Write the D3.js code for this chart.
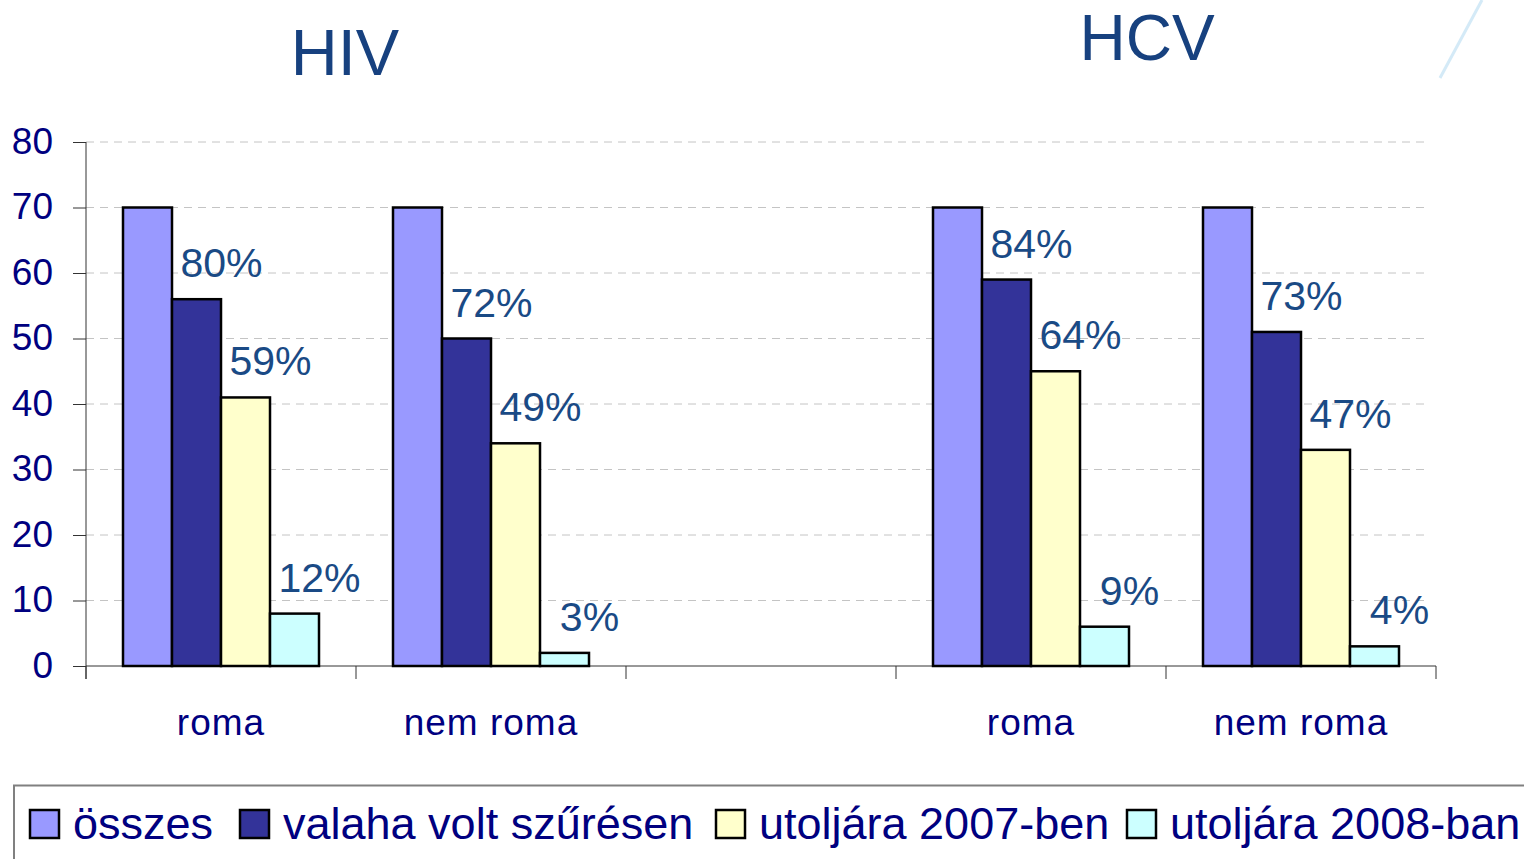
<!DOCTYPE html>
<html>
<head>
<meta charset="utf-8">
<script src="https://cdn.jsdelivr.net/npm/d3@7"></script>
<style>
  body { margin: 0; background: #fff; }
  svg { display: block; font-family: "Liberation Sans", Arial, sans-serif; }
</style>
</head>
<body>
<script>
// chart data
const categories = ["roma", "nem roma", "", "roma", "nem roma"];
const titles = ["HIV", "HCV"];
const seriesNames = ["összes", "valaha volt szűrésen", "utoljára 2007-ben", "utoljára 2008-ban"];
const osszes = [70, 70, null, 70, 70];
const valaha = [56, 50, null, 59, 51];
const utoljara2007 = [41, 34, null, 45, 33];
const utoljara2008 = [8, 2, null, 6, 3];
const valahaLabels = ["80%", "72%", null, "84%", "73%"];
const label2007 = ["59%", "49%", null, "64%", "47%"];
const label2008 = ["12%", "3%", null, "9%", "4%"];
const yTicks = [0, 10, 20, 30, 40, 50, 60, 70, 80];

const seriesValues = [osszes, valaha, utoljara2007, utoljara2008];
const seriesLabels = [null, valahaLabels, label2007, label2008];
const colors = ["#9999FF", "#333399", "#FFFFCC", "#CCFFFF"];

const W = 1524, H = 859;
const svg = d3.select("body").append("svg").attr("width", W).attr("height", H);

const x0 = d3.scaleBand().domain(d3.range(categories.length)).range([86, 1436]);
const x1 = d3.scaleBand().domain(d3.range(seriesNames.length))
    .range([37, x0.bandwidth() - 37]);
const y = d3.scaleLinear().domain([0, 80]).range([666, 142]);

// grid lines
svg.append("g").selectAll("line").data(yTicks.filter(d => d > 0)).join("line")
    .attr("x1", 86).attr("x2", 1430)
    .attr("y1", d => y(d)).attr("y2", d => y(d))
    .attr("stroke", "#c4c4c4").attr("stroke-width", 1)
    .attr("stroke-dasharray", "8,6");

// y axis
const yAxis = svg.append("g").attr("transform", "translate(86,0)")
    .call(d3.axisLeft(y).tickValues(yTicks).tickSize(13).tickPadding(20));
yAxis.select(".domain").remove();
yAxis.append("line").attr("x1", 0).attr("x2", 0).attr("y1", y(80)).attr("y2", 679)
    .attr("stroke", "#333");
yAxis.selectAll(".tick line").attr("stroke", "#333");
yAxis.selectAll(".tick text").attr("fill", "#000080").style("font-size", "37px")
    .attr("dy", "0.3em");

// x axis
const xg = svg.append("g");
xg.append("line").attr("x1", 86).attr("x2", 1436).attr("y1", 666).attr("y2", 666)
    .attr("stroke", "#333");
xg.selectAll(".xt").data(d3.range(categories.length + 1)).join("line")
    .attr("class", "xt")
    .attr("x1", d => 86 + d * x0.bandwidth()).attr("x2", d => 86 + d * x0.bandwidth())
    .attr("y1", 666).attr("y2", 679).attr("stroke", "#333");
xg.selectAll("text").data(categories).join("text")
    .attr("x", (d, i) => x0(i) + x0.bandwidth() / 2)
    .attr("y", 735)
    .attr("text-anchor", "middle")
    .attr("fill", "#000080")
    .style("font-size", "37px")
    .style("letter-spacing", "1px")
    .text(d => d);

// bars
const groups = svg.append("g").selectAll("g").data(categories).join("g")
    .attr("transform", (d, i) => `translate(${x0(i)},0)`);

groups.each(function (cat, ci) {
  const g = d3.select(this);
  seriesValues.forEach((vals, si) => {
    const v = vals[ci];
    if (v == null) return;
    g.append("rect")
      .attr("x", x1(si)).attr("width", x1.bandwidth())
      .attr("y", y(v)).attr("height", y(0) - y(v))
      .attr("fill", colors[si]).attr("stroke", "#000").attr("stroke-width", 2.5);
  });
  seriesValues.forEach((vals, si) => {
    const lab = seriesLabels[si] && seriesLabels[si][ci];
    if (!lab) return;
    g.append("text")
      .attr("x", x1(si) + x1.bandwidth() / 2 + 25)
      .attr("y", y(vals[ci]) - 22)
      .attr("text-anchor", "middle")
      .attr("fill", "#1A4A85")
      .style("font-size", "41px")
      .text(lab);
  });
});

// titles
svg.selectAll(".title").data(titles).join("text")
    .attr("class", "title")
    .attr("x", (d, i) => x0(i * 3) + x0.bandwidth() - 11 - i * 8)
    .attr("y", (d, i) => i === 0 ? 75 : 60)
    .attr("text-anchor", "middle")
    .attr("fill", "#17417F")
    .style("font-size", (d, i) => i === 0 ? "65px" : "64px")
    .text(d => d);

// decorative stroke top right
svg.append("line").attr("x1", 1440).attr("y1", 78).attr("x2", 1482).attr("y2", 0)
    .attr("stroke", "#d4eaf7").attr("stroke-width", 3);

// legend
svg.append("path").attr("d", "M14,859 V785.5 H1524")
    .attr("fill", "none").attr("stroke", "#808080").attr("stroke-width", 2);

const legendX = [30, 240, 716, 1127];
const lg = svg.append("g").selectAll("g").data(seriesNames).join("g")
    .attr("transform", (d, i) => `translate(${legendX[i]},0)`);
lg.append("rect").attr("x", 0).attr("y", 810).attr("width", 29).attr("height", 28)
    .attr("fill", (d, i) => colors[i]).attr("stroke", "#000").attr("stroke-width", 2.5);
lg.append("text").attr("x", 43).attr("y", 839)
    .attr("fill", "#000080").style("font-size", "45px")
    .text(d => d);
</script>
</body>
</html>
